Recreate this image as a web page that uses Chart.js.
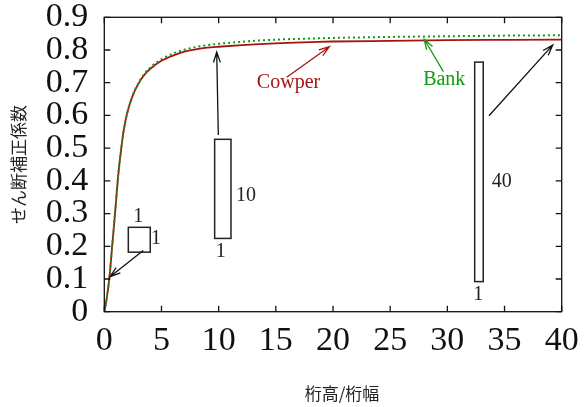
<!DOCTYPE html>
<html>
<head>
<meta charset="utf-8">
<script src="https://cdn.jsdelivr.net/npm/chart.js@4/dist/chart.umd.min.js"></script>
<style>
  html, body { margin: 0; padding: 0; background: #ffffff; }
  canvas { display: block; }
</style>
</head>
<body>
<canvas id="c" width="585" height="407"></canvas>
<script>
// Shear correction factor versus depth/width ratio of a rectangular section
const ratio = [0, 0.1, 0.25, 0.45, 0.7, 0.95, 1.2, 1.45, 1.7, 2.0, 2.5, 3.0, 3.5, 4.0, 5.0, 6.0, 7.0, 8.0, 9.0, 10, 12, 14, 16, 18, 20, 25, 30, 35, 40];
const cowper = [0, 0.018, 0.05, 0.105, 0.205, 0.305, 0.41, 0.49, 0.555, 0.607, 0.662, 0.698, 0.724, 0.742, 0.767, 0.783, 0.795, 0.802, 0.807, 0.810, 0.815, 0.819, 0.822, 0.824, 0.826, 0.828, 0.830, 0.831, 0.832];
const bank = [0, 0.018, 0.05, 0.105, 0.205, 0.305, 0.41, 0.49, 0.555, 0.607, 0.663, 0.700, 0.727, 0.746, 0.772, 0.789, 0.801, 0.809, 0.815, 0.819, 0.825, 0.830, 0.833, 0.835, 0.837, 0.840, 0.842, 0.844, 0.845];

const xTicks = [0, 5, 10, 15, 20, 25, 30, 35, 40];
const yTicks = [0, 0.1, 0.2, 0.3, 0.4, 0.5, 0.6, 0.7, 0.8, 0.9];

const xTitle = '桁高/桁幅';
const yTitle = 'せん断補正係数';

const RED = '#a51414';
const GREEN = '#139a13';
const SERIF = '"Liberation Serif", "DejaVu Serif", serif';
const CJK = '"Noto Sans CJK JP", "Noto Sans", sans-serif';

// Cross-section sketches (width : depth), placed in data units
const sections = [
  { x0: 2.10, x1: 4.02, y0: 0.182, y1: 0.258 },
  { x0: 9.65, x1: 11.08, y0: 0.224, y1: 0.527 },
  { x0: 32.39, x1: 33.14, y0: 0.092, y1: 0.763 }
];
const notes = [
  { text: '1', x: 2.97, y: 0.289, color: '#222' },
  { text: '1', x: 4.52, y: 0.222, color: '#222' },
  { text: '10', x: 12.39, y: 0.354, color: '#222' },
  { text: '1', x: 10.18, y: 0.183, color: '#222' },
  { text: '40', x: 34.75, y: 0.397, color: '#222' },
  { text: '1', x: 32.71, y: 0.051, color: '#222' },
  { text: 'Cowper', x: 16.11, y: 0.700, color: RED },
  { text: 'Bank', x: 29.73, y: 0.708, color: GREEN }
];
const arrows = [
  { from: [3.41, 0.187], to: [0.50, 0.107], color: '#111' },
  { from: [9.97, 0.540], to: [9.83, 0.794], color: '#111' },
  { from: [15.95, 0.717], to: [19.68, 0.810], color: RED },
  { from: [29.65, 0.734], to: [27.98, 0.833], color: GREEN },
  { from: [33.64, 0.599], to: [39.21, 0.815], color: '#111' }
];

const toPoints = ys => ratio.map((r, i) => ({ x: r, y: ys[i] }));

const decorations = {
  id: 'decorations',
  afterDraw(chart) {
    const { ctx, chartArea: a, scales: { x, y } } = chart;
    const px = v => x.getPixelForValue(v);
    const py = v => y.getPixelForValue(v);
    ctx.save();

    // frame
    ctx.strokeStyle = '#111';
    ctx.lineWidth = 1.3;
    ctx.strokeRect(a.left, a.top, a.right - a.left, a.bottom - a.top);

    // inward ticks on all four sides
    const tl = 6;
    ctx.beginPath();
    xTicks.forEach(v => {
      const X = px(v);
      ctx.moveTo(X, a.bottom); ctx.lineTo(X, a.bottom - tl);
      ctx.moveTo(X, a.top); ctx.lineTo(X, a.top + tl);
    });
    yTicks.forEach(v => {
      const Y = py(v);
      ctx.moveTo(a.left, Y); ctx.lineTo(a.left + tl, Y);
      ctx.moveTo(a.right, Y); ctx.lineTo(a.right - tl, Y);
    });
    ctx.stroke();

    // section sketches
    ctx.strokeStyle = '#222';
    ctx.lineWidth = 1.5;
    sections.forEach(s => {
      const L = px(s.x0), R = px(s.x1), T = py(s.y1), B = py(s.y0);
      ctx.strokeRect(L, T, R - L, B - T);
    });

    // arrows with open heads
    arrows.forEach(ar => {
      const x0 = px(ar.from[0]), y0 = py(ar.from[1]);
      const x1 = px(ar.to[0]), y1 = py(ar.to[1]);
      const ang = Math.atan2(y1 - y0, x1 - x0);
      const hl = 11, ha = 0.32;
      ctx.strokeStyle = ar.color;
      ctx.lineWidth = 1.3;
      ctx.beginPath();
      ctx.moveTo(x0, y0); ctx.lineTo(x1, y1);
      ctx.moveTo(x1 - hl * Math.cos(ang - ha), y1 - hl * Math.sin(ang - ha));
      ctx.lineTo(x1, y1);
      ctx.lineTo(x1 - hl * Math.cos(ang + ha), y1 - hl * Math.sin(ang + ha));
      ctx.stroke();
    });

    // text notes
    ctx.font = '20px ' + SERIF;
    ctx.textAlign = 'center';
    ctx.textBaseline = 'middle';
    notes.forEach(n => {
      ctx.fillStyle = n.color;
      ctx.fillText(n.text, px(n.x), py(n.y));
    });

    // x axis title
    ctx.fillStyle = '#222';
    ctx.font = '17px ' + CJK;
    ctx.fillText(xTitle, 342, 393.5);

    ctx.restore();
  }
};

new Chart(document.getElementById('c'), {
  type: 'line',
  data: {
    datasets: [
      {
        label: 'Bank',
        data: toPoints(bank),
        borderColor: GREEN,
        borderWidth: 2,
        borderDash: [2, 3],
        pointRadius: 0,
        cubicInterpolationMode: 'monotone',
        fill: false
      },
      {
        label: 'Cowper',
        data: toPoints(cowper),
        borderColor: RED,
        borderWidth: 1.8,
        pointRadius: 0,
        cubicInterpolationMode: 'monotone',
        fill: false
      }
    ]
  },
  options: {
    responsive: false,
    devicePixelRatio: 1,
    animation: false,
    events: [],
    layout: { padding: { top: 17.3, right: 23.3, left: 0, bottom: 0 } },
    plugins: { legend: { display: false }, tooltip: { enabled: false } },
    scales: {
      x: {
        type: 'linear',
        min: 0,
        max: 40,
        grid: { display: false, drawTicks: false },
        border: { display: false },
        afterBuildTicks: s => { s.ticks = xTicks.map(v => ({ value: v })); },
        afterFit: s => {
          s.height = 95.3;
          s.paddingLeft = 0; s.paddingRight = 0;
        },
        ticks: {
          color: '#111',
          padding: 12,
          maxRotation: 0,
          autoSkip: false,
          font: { family: SERIF, size: 34, lineHeight: 1 },
          callback: v => String(v)
        },
        title: { display: false }
      },
      y: {
        type: 'linear',
        min: 0,
        max: 0.9,
        grid: { display: false, drawTicks: false },
        border: { display: false },
        afterBuildTicks: s => { s.ticks = yTicks.map(v => ({ value: v })); },
        afterFit: s => {
          s.width = 104.3;
          s.paddingTop = 0; s.paddingBottom = 0;
        },
        ticks: {
          color: '#111',
          padding: 16,
          autoSkip: false,
          font: { family: SERIF, size: 34, lineHeight: 1 },
          callback: v => (v === 0 ? '0' : v.toFixed(1))
        },
        title: {
          display: true,
          text: yTitle,
          color: '#222',
          padding: { top: 8, bottom: 0 },
          font: { family: CJK, size: 17, lineHeight: 1.2 }
        }
      }
    }
  },
  plugins: [decorations]
});
</script>
</body>
</html>
